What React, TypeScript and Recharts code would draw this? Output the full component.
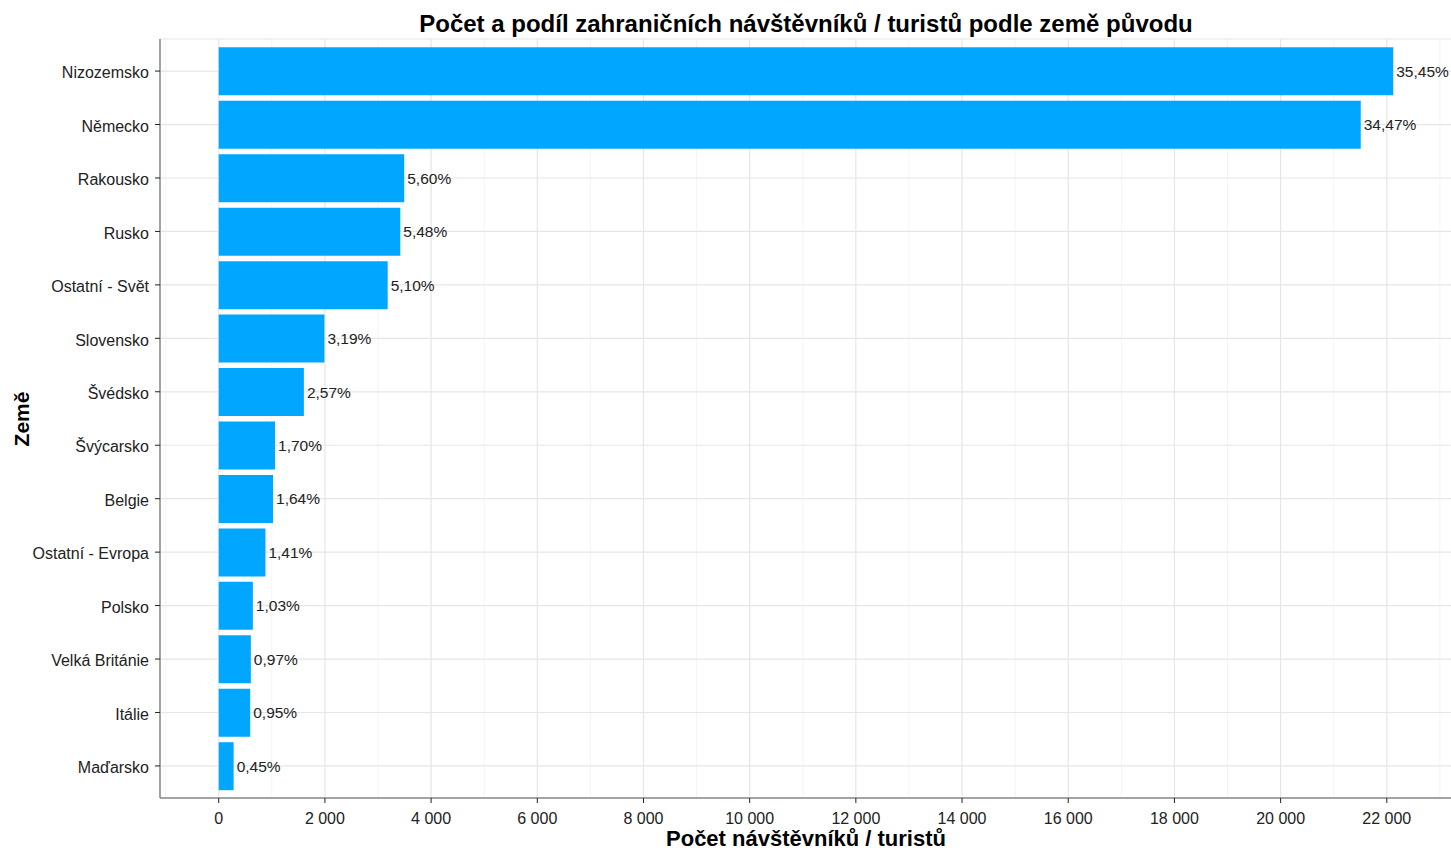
import React from "react";
import {
  BarChart,
  Bar,
  XAxis,
  YAxis,
  CartesianGrid,
  LabelList,
} from "recharts";

const categories = [
  "Nizozemsko",
  "Německo",
  "Rakousko",
  "Rusko",
  "Ostatní - Svět",
  "Slovensko",
  "Švédsko",
  "Švýcarsko",
  "Belgie",
  "Ostatní - Evropa",
  "Polsko",
  "Velká Británie",
  "Itálie",
  "Maďarsko",
];
const visitors = [22121, 21509, 3494, 3420, 3182, 1991, 1604, 1061, 1023, 880, 643, 605, 593, 281];
const shareLabels = [
  "35,45%",
  "34,47%",
  "5,60%",
  "5,48%",
  "5,10%",
  "3,19%",
  "2,57%",
  "1,70%",
  "1,64%",
  "1,41%",
  "1,03%",
  "0,97%",
  "0,95%",
  "0,45%",
];
const majorTicks = [0, 2000, 4000, 6000, 8000, 10000, 12000, 14000, 16000, 18000, 20000, 22000];
const minorTicks = [-1000, 1000, 3000, 5000, 7000, 9000, 11000, 13000, 15000, 17000, 19000, 21000, 23000];
const xDomain = [-1106, 23228];

const data = categories.map((name, i) => ({ name, value: visitors[i], share: shareLabels[i] }));

const FONT = "'Liberation Sans', Arial, sans-serif";
const fmt = (v: number) => String(v).replace(/\B(?=(\d{3})+(?!\d))/g, " ");

const YTick = (props: any) => {
  const { x, y, payload } = props;
  return (
    <text x={x} y={y + 1.5} dy="0.355em" textAnchor="end" fill="#222" fontSize={16} fontFamily={FONT}>
      {payload.value}
    </text>
  );
};

export default function App() {
  return (
    <div style={{ position: "absolute", left: 0, top: 0, width: 1451, height: 851, overflow: "hidden", background: "#fff", fontFamily: FONT }}>
      <div style={{ position: "absolute", left: 0, width: 1612, top: 10, textAlign: "center", fontSize: 24, lineHeight: "28px", fontWeight: "bold", color: "#000" }}>
        Počet a podíl zahraničních návštěvníků / turistů podle země původu
      </div>
      <div style={{ position: "absolute", left: 0, width: 1612, top: 828, textAlign: "center", fontSize: 22, lineHeight: "22px", fontWeight: "bold", color: "#000" }}>
        Počet návštěvníků / turistů
      </div>
      <div style={{ position: "absolute", left: 22, top: 419, transform: "translate(-50%, -50%) rotate(-90deg)", fontSize: 21, fontWeight: "bold", color: "#000", whiteSpace: "nowrap" }}>
        Země
      </div>
      <BarChart
        width={1460}
        height={851}
        data={data}
        layout="vertical"
        margin={{ top: 39, right: 8, left: 0, bottom: 0 }}
        style={{ position: "absolute", left: 0, top: 0 }}
      >
        <XAxis
          xAxisId="minor"
          type="number"
          domain={xDomain}
          ticks={minorTicks}
          allowDataOverflow
          hide
        />
        <CartesianGrid xAxisId="minor" horizontal={false} stroke="#F4F4F4" strokeWidth={1} />
        <CartesianGrid stroke="#E6E6E6" strokeWidth={1.2} />
        <XAxis
          type="number"
          domain={xDomain}
          ticks={majorTicks}
          allowDataOverflow
          tickFormatter={fmt}
          height={53}
          tickSize={5}
          tickMargin={10}
          axisLine={{ stroke: "#888", strokeWidth: 1.5 }}
          tickLine={{ stroke: "#222" }}
          tick={{ fill: "#222", fontSize: 16, fontFamily: FONT }}
        />
        <XAxis
          xAxisId="top"
          orientation="top"
          type="number"
          domain={xDomain}
          allowDataOverflow
          height={0}
          tick={false}
          tickLine={false}
          axisLine={{ stroke: "#888", strokeWidth: 1.5 }}
        />
        <YAxis
          type="category"
          dataKey="name"
          width={160}
          padding={{ top: 5.35, bottom: 5.35 }}
          interval={0}
          tickSize={5}
          tickMargin={6}
          axisLine={{ stroke: "#888", strokeWidth: 1.5 }}
          tickLine={{ stroke: "#222" }}
          tick={YTick}
        />
        <Bar dataKey="value" fill="#00A6FF" barSize={48} isAnimationActive={false}>
          <LabelList dataKey="share" position="right" offset={3} fill="#222" fontSize={15.5} fontFamily={FONT} />
        </Bar>
      </BarChart>
    </div>
  );
}
